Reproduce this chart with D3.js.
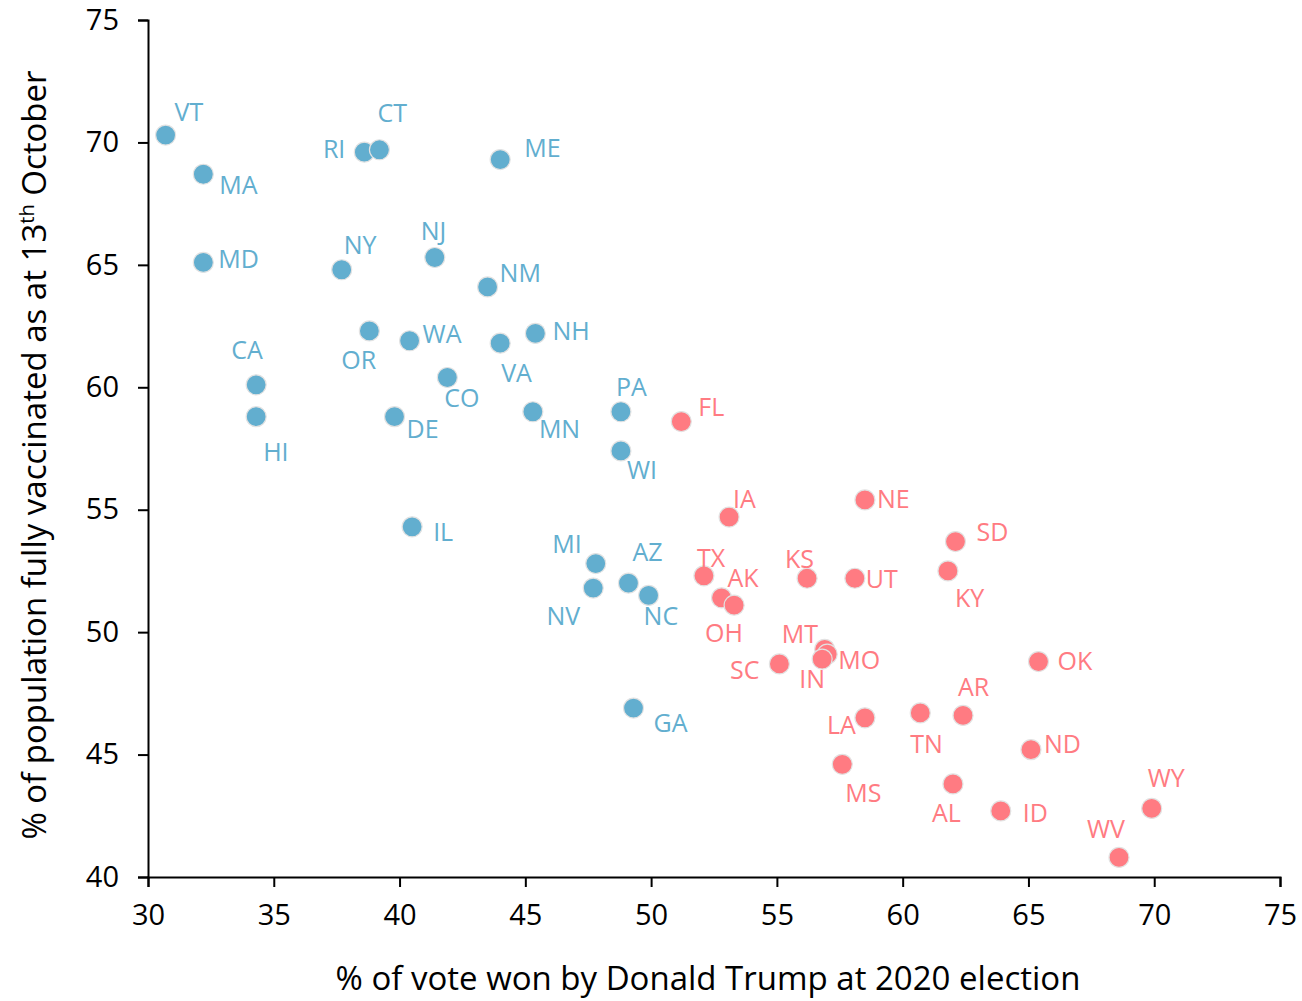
<!DOCTYPE html>
<html>
<head>
<meta charset="utf-8">
<script src="https://cdn.jsdelivr.net/npm/d3@7"></script>
<style>
  body { margin: 0; background: #fff; }
  svg { font-family: "Century Gothic", "URW Gothic", "Open Sans", sans-serif; }
</style>
</head>
<body>
<svg></svg>
<script>
var WIDTH = 1302;
var HEIGHT = 1001;

// states, by party that won them
var states = ['VT','MA','MD','RI','CT','ME','NY','NJ','NM','OR','WA','NH','VA','CA','HI','CO','DE','MN','PA','WI','IL','MI','NV','AZ','NC','GA',
  'FL','IA','NE','SD','TX','AK','OH','KS','UT','KY','MT','MO','IN','SC','OK','AR','TN','LA','ND','MS','AL','ID','WY','WV'];
var trumpVote = [30.7,32.2,32.2,38.6,39.2,44.0,37.7,41.4,43.5,38.8,40.4,45.4,44.0,34.3,34.3,41.9,39.8,45.3,48.8,48.8,40.5,47.8,47.7,49.1,49.9,49.3,
  51.2,53.1,58.5,62.1,52.1,52.8,53.3,56.2,58.1,61.8,56.9,57.0,56.8,55.1,65.4,62.4,60.7,58.5,65.1,57.6,62.0,63.9,69.9,68.6];
var vaccinated = [70.3,68.7,65.1,69.6,69.7,69.3,64.8,65.3,64.1,62.3,61.9,62.2,61.8,60.1,58.8,60.4,58.8,59.0,59.0,57.4,54.3,52.8,51.8,52.0,51.5,46.9,
  58.6,54.7,55.4,53.7,52.3,51.4,51.1,52.2,52.2,52.5,49.3,49.1,48.9,48.7,48.8,46.6,46.7,46.5,45.2,44.6,43.8,42.7,42.8,40.8];
var party = ['D','D','D','D','D','D','D','D','D','D','D','D','D','D','D','D','D','D','D','D','D','D','D','D','D','D',
  'R','R','R','R','R','R','R','R','R','R','R','R','R','R','R','R','R','R','R','R','R','R','R','R'];
var xTicks = [30,35,40,45,50,55,60,65,70,75];
var yTicks = [40,45,50,55,60,65,70,75];

// where each state's label sits relative to its dot: [dx, dy, anchor]
var labelPlace = {
  VT:[9,-14,'start'], MA:[16,20,'start'], MD:[15,6,'start'], RI:[-19,6,'end'], CT:[-2,-28,'start'],
  ME:[24,-3,'start'], NY:[2,-16,'start'], NJ:[-14,-18,'start'], NM:[12,-5,'start'], OR:[-28,38,'start'],
  WA:[13,2,'start'], NH:[17,7,'start'], VA:[1,39,'start'], CA:[-25,-26,'start'], HI:[7,44,'start'],
  CO:[-3,30,'start'], DE:[12,21,'start'], MN:[6,26,'start'], PA:[-5,-16,'start'], WI:[6,28,'start'],
  IL:[21,14,'start'], MI:[-14,-11,'end'], NV:[-13,37,'end'], AZ:[4,-22,'start'], NC:[-5,30,'start'],
  GA:[20,24,'start'], FL:[17,-6,'start'], IA:[4,-9,'start'], NE:[12,8,'start'], SD:[21,-1,'start'],
  TX:[-7,-9,'start'], AK:[6,-11,'start'], OH:[-29,37,'start'], KS:[-22,-10,'start'], UT:[11,10,'start'],
  KY:[7,36,'start'], MT:[-43,-6,'start'], MO:[11,15,'start'], IN:[-23,29,'start'], SC:[-20,15,'end'],
  OK:[19,8,'start'], AR:[-5,-19,'start'], TN:[-10,40,'start'], LA:[-9,16,'end'], ND:[13,3,'start'],
  MS:[3,38,'start'], AL:[-21,38,'start'], ID:[22,11,'start'], WY:[-4,-21,'start'], WV:[-32,-19,'start']
};

var colors = { D: '#62aecf', R: '#ff7b82' };
var FONT = '"Century Gothic", "URW Gothic", "Open Sans", sans-serif';

var margin = { top: 20, right: 22, bottom: 124, left: 148 };

var svg = d3.select('svg')
  .attr('width', WIDTH)
  .attr('height', HEIGHT);

var xScale = d3.scaleLinear()
  .domain([30, 75])
  .range([margin.left, WIDTH - margin.right]);

var yScale = d3.scaleLinear()
  .domain([40, 75])
  .range([HEIGHT - margin.bottom, margin.top]);

var data = states.map(function(s, i) {
  return { state: s, x: trumpVote[i], y: vaccinated[i], party: party[i] };
});

// axes
var xAxis = svg.append('g')
  .attr('transform', 'translate(0,' + yScale(40) + ')')
  .call(d3.axisBottom(xScale).tickValues(xTicks).tickSize(10).tickSizeOuter(10).tickPadding(17));

var yAxis = svg.append('g')
  .attr('transform', 'translate(' + xScale(30) + ',0)')
  .call(d3.axisLeft(yScale).tickValues(yTicks).tickSize(10).tickSizeOuter(10).tickPadding(19));

[xAxis, yAxis].forEach(function(ax) {
  ax.select('.domain').attr('stroke', '#000').attr('stroke-width', 2);
  ax.selectAll('.tick line').attr('stroke', '#000').attr('stroke-width', 2);
  ax.selectAll('.tick text')
    .attr('fill', '#000')
    .style('font-family', FONT)
    .style('font-size', '29px');
});

// dots
svg.append('g')
  .selectAll('circle')
  .data(data)
  .enter()
  .append('circle')
  .attr('cx', function(d) { return xScale(d.x); })
  .attr('cy', function(d) { return yScale(d.y); })
  .attr('r', 10)
  .attr('fill', function(d) { return colors[d.party]; })
  .attr('stroke', '#e2e2e2')
  .attr('stroke-width', 1.2);

// labels
svg.append('g')
  .selectAll('text')
  .data(data)
  .enter()
  .append('text')
  .attr('x', function(d) { return xScale(d.x) + labelPlace[d.state][0]; })
  .attr('y', function(d) { return yScale(d.y) + labelPlace[d.state][1]; })
  .attr('text-anchor', function(d) { return labelPlace[d.state][2]; })
  .attr('fill', function(d) { return colors[d.party]; })
  .style('font-size', '25px')
  .text(function(d) { return d.state; });

// axis titles
svg.append('text')
  .attr('x', 708)
  .attr('y', 990)
  .attr('text-anchor', 'middle')
  .attr('fill', '#000')
  .style('font-size', '33px')
  .text('% of vote won by Donald Trump at 2020 election');

var yTitle = svg.append('text')
  .attr('transform', 'translate(46,455) rotate(-90)')
  .attr('text-anchor', 'middle')
  .attr('fill', '#000')
  .style('font-size', '33px');
yTitle.append('tspan').text('% of population fully vaccinated as at 13');
yTitle.append('tspan').attr('dy', -12).style('font-size', '20px').text('th');
yTitle.append('tspan').attr('dy', 12).text(' October');
</script>
</body>
</html>
